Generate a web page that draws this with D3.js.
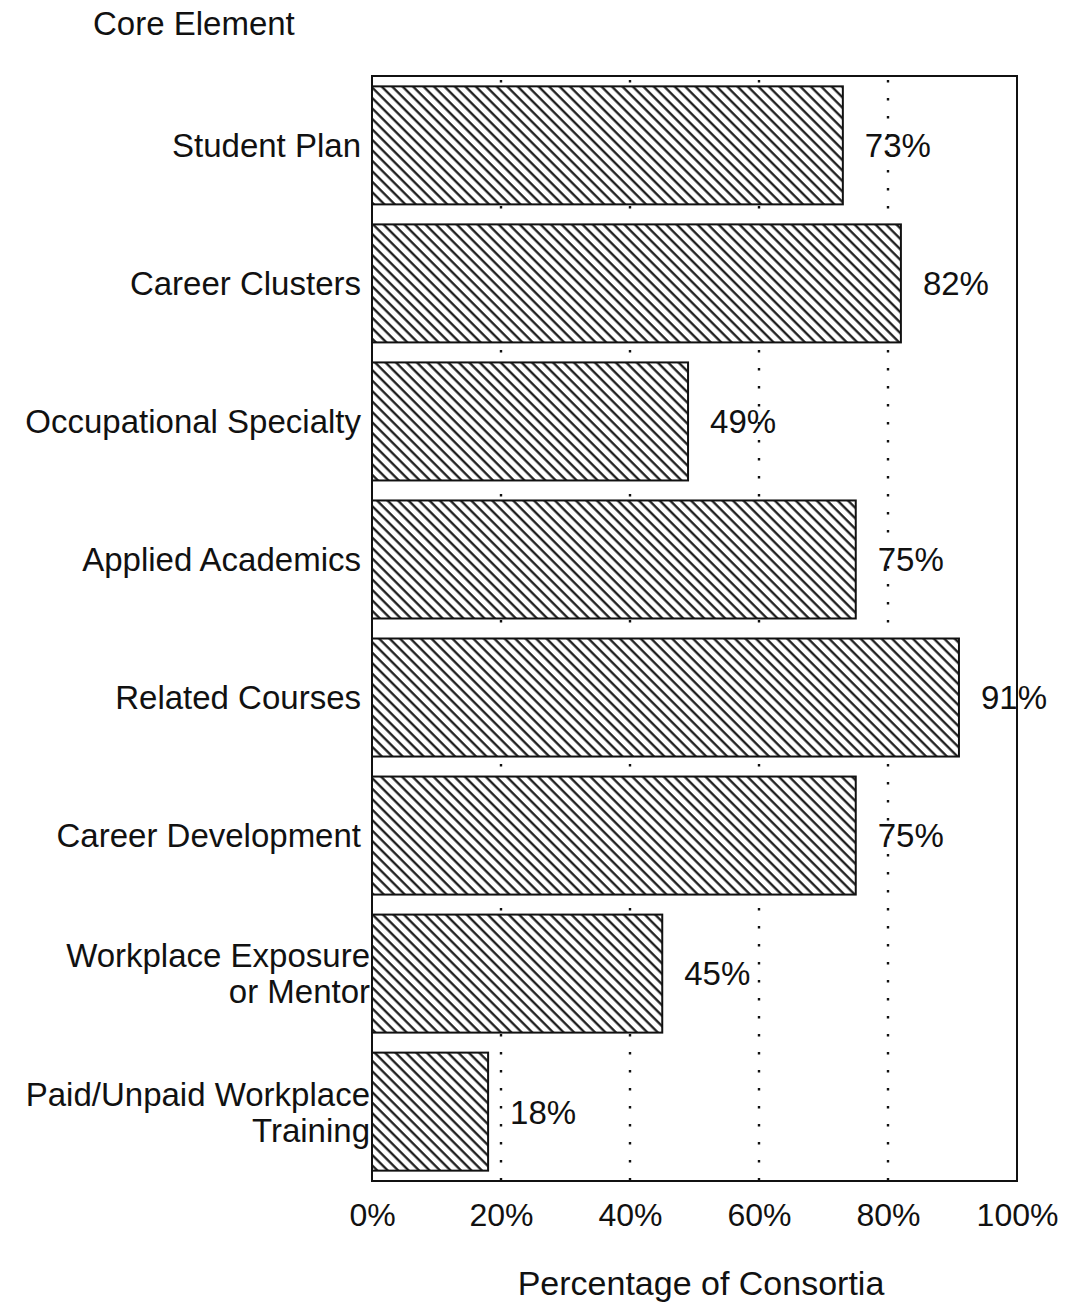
<!DOCTYPE html>
<html>
<head>
<meta charset="utf-8">
<script src="https://cdn.jsdelivr.net/npm/d3@7"></script>
<style>
  body { margin: 0; background: #fff; }
  text { font-family: "Liberation Sans", Arial, sans-serif; fill: #111; }
</style>
</head>
<body>
<script>

const svgWidth = 1073;
const svgHeight = 1304;

// plot frame
const frame = { left: 372, right: 1017, top: 76, bottom: 1181 };

// Data
const categories = [
    "Student Plan",
    "Career Clusters",
    "Occupational Specialty",
    "Applied Academics",
    "Related Courses",
    "Career Development",
    "Workplace Exposure\nor Mentor",
    "Paid/Unpaid Workplace\nTraining"
];
const percentages = [73, 82, 49, 75, 91, 75, 45, 18];
const tickValues = [0, 20, 40, 60, 80, 100];
const gridValues = [20, 40, 60, 80];

const svg = d3.select("body")
    .append("svg")
    .attr("width", svgWidth)
    .attr("height", svgHeight);

// diagonal hatching for the bars (white ground under the lines)
const defs = svg.append("defs");
const hatch = defs.append("pattern")
    .attr("id", "hatch")
    .attr("patternUnits", "userSpaceOnUse")
    .attr("width", 7.4)
    .attr("height", 7.4)
    .attr("patternTransform", "rotate(-45)");
hatch.append("rect")
    .attr("width", 7.4).attr("height", 7.4)
    .attr("fill", "#fff");
hatch.append("line")
    .attr("x1", 1.5).attr("y1", 0)
    .attr("x2", 1.5).attr("y2", 7.4)
    .attr("stroke", "#111")
    .attr("stroke-width", 2.2);

const xScale = d3.scaleLinear()
    .domain([0, 100])
    .range([frame.left, frame.right]);

const yScale = d3.scaleBand()
    .domain(categories)
    .range([frame.top, frame.bottom])
    .paddingInner(0.145)
    .paddingOuter(0.075);

// dotted gridlines
svg.append("g")
    .selectAll("line")
    .data(gridValues)
    .enter()
    .append("line")
    .attr("x1", d => xScale(d))
    .attr("x2", d => xScale(d))
    .attr("y1", frame.top + 4)
    .attr("y2", frame.bottom)
    .attr("stroke", "#111")
    .attr("stroke-width", 2.4)
    .attr("stroke-dasharray", "2.5,15.5");

// bars
svg.append("g")
    .selectAll("rect")
    .data(percentages)
    .enter()
    .append("rect")
    .attr("x", xScale(0))
    .attr("y", (d, i) => yScale(categories[i]))
    .attr("width", d => xScale(d) - xScale(0))
    .attr("height", yScale.bandwidth())
    .attr("fill", "url(#hatch)")
    .attr("stroke", "#111")
    .attr("stroke-width", 2);

// value labels
svg.append("g")
    .selectAll("text")
    .data(percentages)
    .enter()
    .append("text")
    .attr("x", d => xScale(d) + 22)
    .attr("y", (d, i) => yScale(categories[i]) + yScale.bandwidth() / 2)
    .attr("dy", "0.36em")
    .attr("font-size", 33)
    .text(d => d + "%");

// frame
svg.append("rect")
    .attr("x", frame.left)
    .attr("y", frame.top)
    .attr("width", frame.right - frame.left)
    .attr("height", frame.bottom - frame.top)
    .attr("fill", "none")
    .attr("stroke", "#111")
    .attr("stroke-width", 2);

// category labels
const catGroup = svg.append("g");
categories.forEach(c => {
    const lines = c.split("\n");
    const cy = yScale(c) + yScale.bandwidth() / 2;
    const gap = lines.length > 1 ? 2 : 11;
    const t = catGroup.append("text")
        .attr("text-anchor", "end")
        .attr("font-size", 33)
        .attr("y", cy - (lines.length - 1) * 18);
    lines.forEach((l, j) => {
        t.append("tspan")
            .attr("x", frame.left - gap)
            .attr("dy", j === 0 ? "0.36em" : 36)
            .text(l);
    });
});

// x axis tick labels
const xAxis = d3.axisBottom(xScale)
    .tickValues(tickValues)
    .tickSize(0)
    .tickPadding(22)
    .tickFormat(d => d + "%");

const axisG = svg.append("g")
    .attr("transform", `translate(0, ${frame.bottom})`)
    .call(xAxis);
axisG.select(".domain").remove();
axisG.selectAll("text")
    .attr("font-size", 32)
    .attr("font-family", "Liberation Sans, Arial, sans-serif")
    .attr("fill", "#111");

// axis titles
svg.append("text")
    .attr("x", 701)
    .attr("y", 1295)
    .attr("text-anchor", "middle")
    .attr("font-size", 34)
    .text("Percentage of Consortia");

svg.append("text")
    .attr("x", 93)
    .attr("y", 35)
    .attr("font-size", 33)
    .text("Core Element");

</script>
</body>
</html>
